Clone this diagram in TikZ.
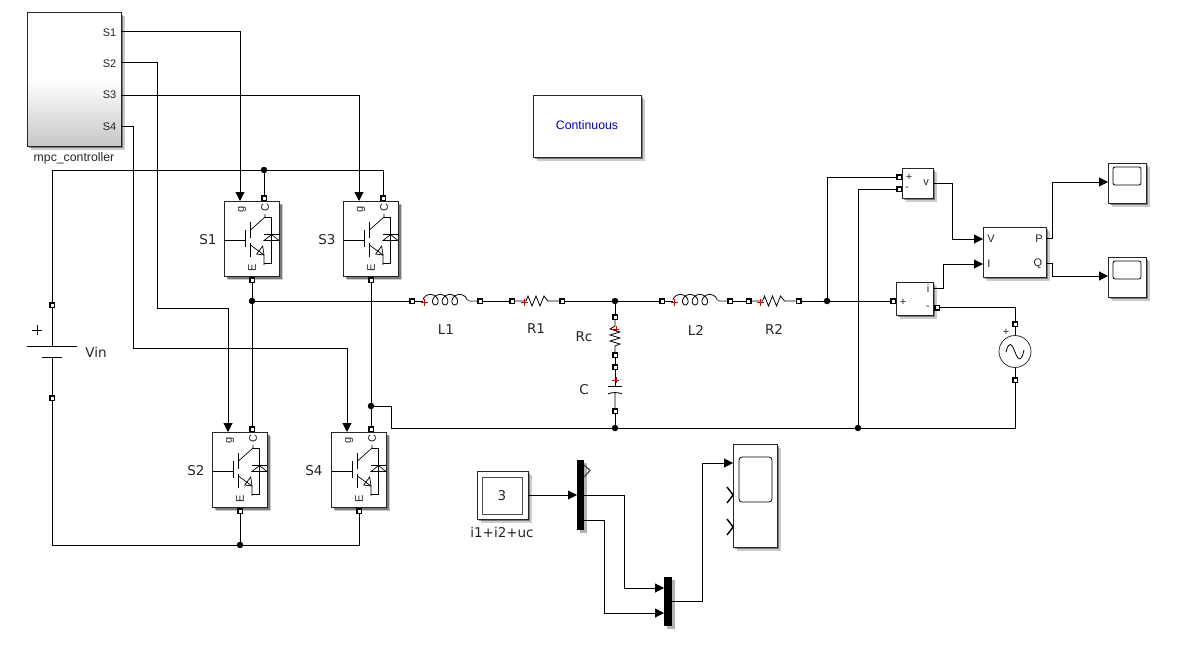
\documentclass[tikz,border=0pt]{standalone}
\usepackage{fontspec}
\setmainfont{Liberation Sans}
\newfontfamily\labelfont{DejaVu Sans}
\usetikzlibrary{arrows.meta,shadows}

\tikzset{
  wire/.style={line width=1pt},
  sig/.style={wire,-{Triangle[length=9pt,width=9pt]}},
  port/.style={rectangle,draw=black,line width=1.5pt,fill=white,inner sep=0pt,minimum size=4.5pt},
  dot/.style={circle,fill=black,inner sep=0pt,minimum size=6.5pt},
  shad/.style={drop shadow={shadow xshift=3.5pt,shadow yshift=-3.5pt,opacity=0.2,fill=black},
               drop shadow={shadow xshift=2pt,shadow yshift=-2pt,opacity=0.4,fill=black}},
  block/.style={draw=black!85,line width=1pt,fill=white,shad,inner sep=0pt},
  bar/.style={fill=black,draw=none,inner sep=0pt,drop shadow={shadow xshift=2.5pt,shadow yshift=-2.5pt,opacity=0.3,fill=black}},
  lbl/.style={font=\labelfont\fontsize{13.5}{15}\selectfont,text=black!85},
  small/.style={font=\fontsize{11}{12}\selectfont,text=black!85},
  redplus/.style={draw=red!85!black,line width=0.8pt},
  igbt/.pic={
    \node[block,minimum width=55pt,minimum height=75pt] (box) at (0,0) {};
    \node[port] (c) at (12,-41) {};
    \node[port] (e) at (0,41) {};
    \coordinate (g) at (-12,-38);
    \node[small,rotate=90] at (-10,-30) {g};
    \node[small,rotate=90] at (13,-31) {C};
    \node[small,rotate=90] at (0,29) {E};
    \draw[line width=0.7pt] (-27,1) -- (-7,1) (-7,-9) -- (-7,8);
    \draw[line width=0.8pt] (-1.5,-17) -- (-1.5,-1) (-1.5,4) -- (-1.5,18);
    \draw[line width=0.7pt] (13,-25) -- (13,-22) -- (-1.5,-9);
    \draw[line width=0.7pt] (-1.5,6) -- (12,16) -- (12,26);
    \draw[line width=0.7pt] (13,-22) -- (19.5,-22) -- (19.5,24.5) -- (12,24.5);
    \draw[line width=0.7pt] (4.7,15) -- (10.7,7) -- (12,16) -- cycle;
    \draw[line width=0.7pt] (12,-4.5) -- (27,-4.5) (12,1.5) -- (27,1.5) -- (19.5,-4.5) -- cycle;
  },
  coilel/.pic={
    \node[port] (l) at (-34,0) {};
    \node[port] (r) at (34,0) {};
    \draw[wire] (l) -- (-23,0);
    \draw[line width=0.8pt] plot[domain=-90:1170,samples=120] ({-18+1.55*(\x+90)/57.3+5*sin(\x)},{-1.3-5.2*cos(\x)});
    \draw[line width=1pt,black!60] (21,-1.3) -- (24,0) -- (r);
    \draw[redplus] (-25,1) -- (-18,1) (-21.5,-2.5) -- (-21.5,4.5);
  },
  reselm/.pic={
    \node[port] (l) at (-25,0) {};
    \node[port] (r) at (25,0) {};
    \draw[line width=0.8pt] (l) -- (-11,0) -- (-9,-5) -- (-5,5) -- (-1,-5) -- (3,5) -- (7,-5) -- (11,0) -- (r);
    \draw[redplus] (-16.5,1) -- (-9.5,1) (-13,-2.5) -- (-13,4.5);
  },
  scopebox/.pic={
    \node[block,minimum width=38pt,minimum height=40pt] (box) at (0,0) {};
    \draw[line width=0.8pt,rounded corners=2pt] (-14,-16) rectangle (14,2);
  }
}

\begin{document}
\begin{tikzpicture}[x=1pt,y=-1pt]
  \useasboundingbox (0,0) rectangle (1191,661);

  % Controlador
  \node[block,top color=white,bottom color=black!22,middle color=white,minimum width=94pt,minimum height=133pt] (mpc) at (74,79.5) {};
  \node[small] at (109.5,33) {S1};
  \node[small] at (109.5,64) {S2};
  \node[small] at (109.5,95) {S3};
  \node[small] at (109.5,127) {S4};
  \node[font=\fontsize{12.3}{14}\selectfont,text=black!85] (mpcname) at (74,158) {mpc\_controller};
  \coordinate (mpco1) at (121,32);
  \coordinate (mpco2) at (121,63);
  \coordinate (mpco3) at (121,95);
  \coordinate (mpco4) at (121,126);

  \node[block,minimum width=108pt,minimum height=62pt] (powergui) at (587,126) {};
  \node[font=\fontsize{12.3}{14}\selectfont,text=blue!75!black] at (587,125) {Continuous};

  % Puente
  \pic (sa) at (252,239) {igbt};
  \pic (sc) at (371,239) {igbt};
  \pic (sb) at (240,470) {igbt};
  \pic (sd) at (359,470) {igbt};
  \node[lbl] at (208,240) {S1};
  \node[lbl] at (327,240) {S3};
  \node[lbl] at (196,471) {S2};
  \node[lbl] at (314,471) {S4};

  % Fuente
  \node[port] (vint) at (52,305) {};
  \node[port] (vinb) at (52,398) {};
  \coordinate (plateh) at (52,346);
  \coordinate (platel) at (52,357);
  \draw[line width=0.8pt] (vint) -- (plateh) (platel) -- (vinb);
  \draw[line width=0.8pt] (27,346) -- (77,346) (42,357) -- (62,357);
  \draw[line width=0.8pt] (32,330) -- (42,330) (37,325) -- (37,335);
  \node[lbl] at (96,352) {Vin};

  % Filtro
  \pic (la) at (446,301) {coilel};
  \pic (ra) at (537,301) {reselm};
  \pic (lb) at (696,301) {coilel};
  \pic (rb) at (773.5,301) {reselm};
  \node[lbl] at (446,330) {L1};
  \node[lbl] at (536,329) {R1};
  \node[lbl] at (696,330) {L2};
  \node[lbl] at (774,329) {R2};

  \node[port] (rct) at (615,317) {};
  \node[port] (rcb) at (615,355) {};
  \draw[line width=0.8pt] (rct) -- (615,326) -- (610,329) -- (620,332) -- (610,335) -- (620,338) -- (610,341) -- (620,344) -- (615,346) -- (rcb);
  \draw[redplus] (612,329) -- (619,329) (616,326) -- (616,332);
  \node[lbl] at (584,337) {Rc};
  \node[port] (capt) at (615,367) {};
  \node[port] (capb) at (615,411) {};
  \draw[line width=0.8pt] (capt) -- (615,386) (608,386) -- (622,386);
  \draw[line width=0.8pt] (608,394) .. controls (612,392) and (618,392) .. (622,394) (615,393) -- (capb);
  \draw[redplus] (612,380) -- (619,380) (616,377) -- (616,383);
  \node[lbl] at (584,390) {C};

  % Medidas
  \node[block,minimum width=31pt,minimum height=30pt] (vm) at (917.5,183) {};
  \node[port] (vmp) at (899,177) {};
  \node[port] (vmn) at (899,189) {};
  \node[small] at (909,177) {+};
  \node[small] at (907,189) {-};
  \node[small] at (926,183) {v};
  \coordinate (vmo) at (933,183);
  \node[block,minimum width=37pt,minimum height=33pt] (im) at (914.5,298.5) {};
  \node[port] (imp) at (893,301) {};
  \node[port] (imn) at (937,307.5) {};
  \node[small] at (903,302) {+};
  \node[small] at (928,308) {-};
  \node[small] at (928,289) {i};
  \coordinate (imo) at (933,288);
  \node[block,minimum width=63pt,minimum height=50pt] (pq) at (1014.5,252) {};
  \node[small] at (991,239) {V};
  \node[small] at (989,264) {I};
  \node[small] at (1039,239) {P};
  \node[small] at (1038,264) {Q};
  \coordinate (pqv) at (983,239);
  \coordinate (pqi) at (983,264);
  \coordinate (pqp) at (1046,238);
  \coordinate (pqq) at (1046,263);
  \pic (sp) at (1127,183) {scopebox};
  \pic (sq) at (1127,277) {scopebox};
  \coordinate (spi) at (1108,182);
  \coordinate (sqi) at (1108,276);

  % Fuente alterna
  \node[port] (act) at (1015,324) {};
  \node[port] (acb) at (1015,380) {};
  \node[circle,draw=black!80,line width=0.8pt,minimum size=32pt,inner sep=0pt] (ac) at (1015,351.5) {};
  \draw[line width=0.8pt] (act) -- (ac) (ac) -- (acb);
  \draw[line width=0.8pt] (1006,352) .. controls (1009,340) and (1012,344) .. (1015,352) .. controls (1018,360) and (1021,363) .. (1024,350);
  \node[small] at (1006,332) {+};

  % Medida inferior
  \node[block,minimum width=51pt,minimum height=48pt] (disp) at (502.5,495) {};
  \draw[line width=0.7pt,black!70] (482,477) rectangle (522,514);
  \node[lbl] at (502,496) {3};
  \node[lbl] at (502,532) {i1+i2+uc};
  \node[bar,minimum width=7pt,minimum height=70pt] (demux) at (580.5,495) {};
  \draw[line width=1.3pt,black!70] (584,465) -- (590,470.5) -- (584,477);
  \node[bar,minimum width=8pt,minimum height=49pt] (mux) at (668,601.5) {};
  \coordinate (dispo) at (528,495);
  \coordinate (demi) at (577,495);
  \coordinate (demo1) at (584,495);
  \coordinate (demo2) at (584,520);
  \coordinate (muxi1) at (664,588);
  \coordinate (muxi2) at (664,613);
  \coordinate (muxo) at (672,601);
  \node[block,minimum width=44pt,minimum height=103pt] (scope) at (755,495.5) {};
  \draw[line width=0.8pt,rounded corners=3pt] (739,457) rectangle (772,502);
  \draw[line width=1.4pt] (727,487) -- (733,495) -- (727,503) (727,519) -- (733,527) -- (727,535);
  \coordinate (scopei) at (733,463);

  % Conexiones
  \node[dot] (dotc) at (264,170) {};
  \node[dot] (dota) at (252,301) {};
  \node[dot] (dotd) at (371,406) {};
  \node[dot] (dotm) at (615,301) {};
  \node[dot] (dotf) at (615,428) {};
  \node[dot] (doth) at (858,428) {};
  \node[dot] (dotv) at (827,301) {};
  \node[dot] (dotb) at (240,545) {};
  \coordinate (bendtwo) at (157,308);
  \coordinate (bendfour) at (133,348);
  \coordinate (bendg) at (391,428);
  \coordinate (bendv) at (952,239);
  \coordinate (bendi) at (943,264);
  \coordinate (bendp) at (1052,182);
  \coordinate (bendq) at (1052,276);
  \coordinate (bendx) at (624,588);
  \coordinate (bendy) at (604,613);
  \coordinate (bendz) at (702,463);

  \draw[sig] (mpco1) -| (sag);
  \draw[sig] (mpco2) -| (bendtwo) -| (sbg);
  \draw[sig] (mpco3) -| (scg);
  \draw[sig] (mpco4) -| (bendfour) -| (sdg);

  \draw[wire] (vint) |- (dotc);
  \draw[wire] (dotc) -- (sac);
  \draw[wire] (dotc) -| (scc);
  \draw[wire] (vinb) |- (dotb);
  \draw[wire] (sbe) -- (dotb);
  \draw[wire] (dotb) -| (sde);

  \draw[wire] (sae) -- (dota) -- (sbc);
  \draw[wire] (sce) -- (dotd) -- (sdc);
  \draw[wire] (dota) -- (lal);
  \draw[wire] (lar) -- (ral);
  \draw[wire] (rar) -- (dotm) -- (lbl);
  \draw[wire] (lbr) -- (rbl);
  \draw[wire] (rbr) -- (dotv) -- (imp);
  \draw[wire] (dotm) -- (rct);
  \draw[wire] (rcb) -- (capt);
  \draw[wire] (capb) -- (dotf);
  \draw[wire] (dotd) -| (bendg) -- (dotf) -- (doth) -| (acb);
  \draw[wire] (dotv) |- (vmp);
  \draw[wire] (doth) |- (vmn);
  \draw[wire] (imn) -| (act);

  \draw[sig] (vmo) -| (bendv) -- (pqv);
  \draw[sig] (imo) -| (bendi) -- (pqi);
  \draw[sig] (pqp) -| (bendp) -- (spi);
  \draw[sig] (pqq) -| (bendq) -- (sqi);

  \draw[sig] (dispo) -- (demi);
  \draw[sig] (demo1) -| (bendx) -- (muxi1);
  \draw[sig] (demo2) -| (bendy) -- (muxi2);
  \draw[sig] (muxo) -| (bendz) -- (scopei);
\end{tikzpicture}
\end{document}
